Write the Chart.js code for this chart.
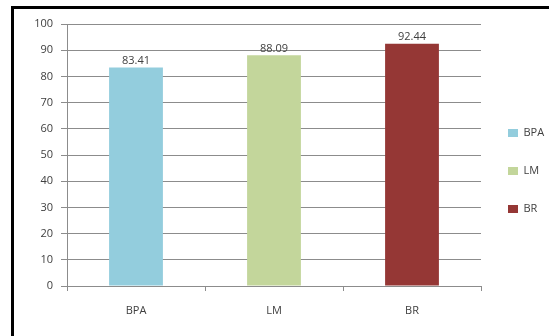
<!DOCTYPE html>
<html>
<head>
<meta charset="utf-8">
<script src="https://cdn.jsdelivr.net/npm/chart.js@4"></script>
<style>
  html, body { margin: 0; padding: 0; background: #fff; }
  #wrap { position: absolute; left: 0; top: 0; width: 549px; height: 336px; }
  #frame { position: absolute; left: 11px; top: 6px; width: 545px; height: 340px;
           border-left: 3px solid #000; border-top: 3px solid #000; pointer-events: none; }
</style>
</head>
<body>
<div id="wrap"><canvas id="barChart"></canvas></div>
<div id="frame"></div>
<script>
const categories = ['BPA', 'LM', 'BR'];
const scores = [83.41, 88.09, 92.44];
const barColors = ['#93cddd', '#c3d69b', '#953735'];
const yTicks = [0, 10, 20, 30, 40, 50, 60, 70, 80, 90, 100];

Chart.defaults.font.family = "'Open Sans', sans-serif";
Chart.defaults.font.size = 11;
Chart.defaults.color = '#404040';

const gridColor = '#8c8c8c';

// value labels above each bar
const valueLabels = {
    id: 'valueLabels',
    afterDatasetsDraw(chart) {
        const ctx = chart.ctx;
        const meta = chart.getDatasetMeta(0);
        ctx.save();
        ctx.font = "11px 'Open Sans', sans-serif";
        ctx.fillStyle = '#404040';
        ctx.textAlign = 'center';
        ctx.textBaseline = 'bottom';
        meta.data.forEach((bar, i) => {
            ctx.fillText(scores[i].toFixed(2), bar.x, bar.y - 1);
        });
        ctx.restore();
    }
};

new Chart(document.getElementById('barChart'), {
    type: 'bar',
    data: {
        labels: categories,
        datasets: [{
            label: 'Score',
            data: scores,
            backgroundColor: barColors,
            borderWidth: 0,
            categoryPercentage: 0.39,
            barPercentage: 1
        }]
    },
    options: {
        responsive: true,
        maintainAspectRatio: false,
        animation: false,
        layout: { padding: { left: 14, top: 24, right: 0, bottom: 18 } },
        scales: {
            y: {
                min: 0, max: 100,
                afterBuildTicks: s => { s.ticks = yTicks.map(v => ({ value: v })); },
                afterFit: s => { s.width = 53; },
                border: { color: gridColor },
                grid: { color: gridColor, tickLength: 6 },
                ticks: { padding: 8 }
            },
            x: {
                afterFit: s => { s.height = 32; },
                border: { color: gridColor },
                grid: { offset: true, drawOnChartArea: false, color: gridColor, tickLength: 5 },
                ticks: { padding: 13 }
            }
        },
        plugins: {
            legend: {
                position: 'right',
                maxWidth: 68,
                labels: {
                    boxWidth: 10, boxHeight: 8, padding: 27,
                    generateLabels: () => categories.map((c, i) => ({
                        text: c, fillStyle: barColors[i], strokeStyle: barColors[i],
                        lineWidth: 0, fontColor: '#404040', index: i
                    }))
                },
                onClick: null
            },
            tooltip: { enabled: false }
        }
    },
    plugins: [valueLabels]
});
</script>
</body>
</html>
